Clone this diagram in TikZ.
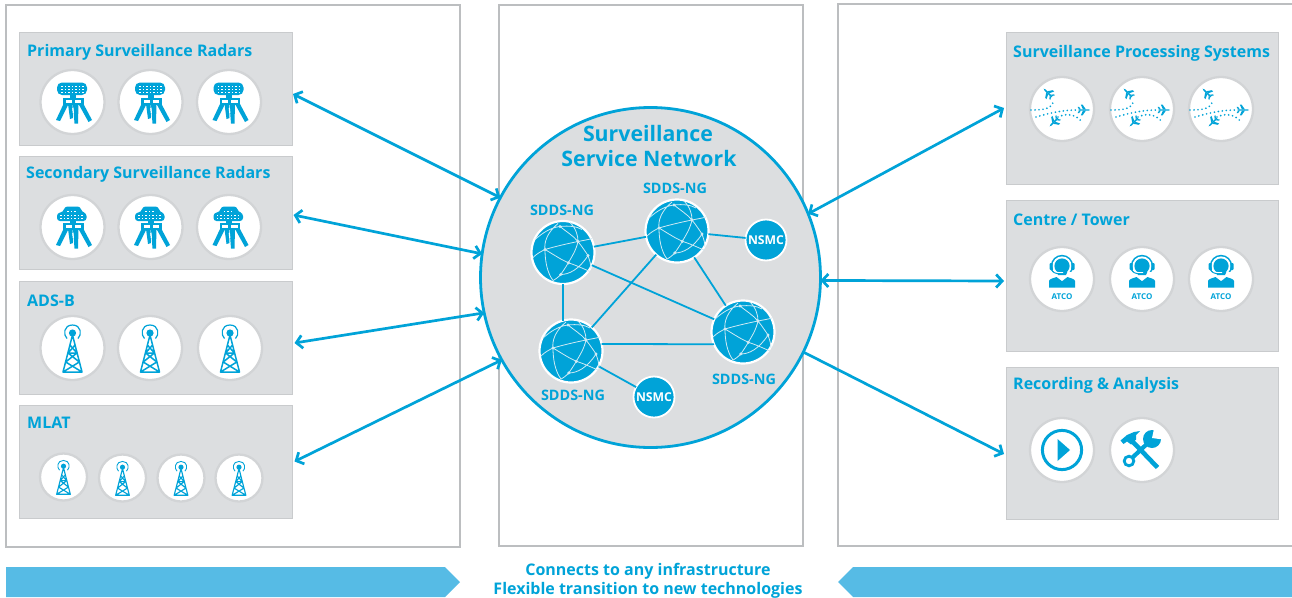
\documentclass[tikz,border=0pt]{standalone}
\usepackage{fontspec}
\setmainfont{Open Sans}
\usetikzlibrary{arrows.meta,calc}
\definecolor{sblue}{HTML}{00A3D8}
\definecolor{sgrey}{HTML}{DCDEE0}
\definecolor{sedge}{HTML}{C9CBCD}
\definecolor{pedge}{HTML}{BCBEC0}
\definecolor{barblue}{HTML}{56BBE5}
\definecolor{gline}{HTML}{CFEAF4}
\definecolor{ring}{HTML}{D2D4D6}
\newcommand{\tw}{1}
\newcommand{\fs}[1]{\fontsize{#1}{#1}\selectfont}
\tikzset{
  x=1pt,y=-1pt,
  panel/.style={draw=pedge,line width=1.1pt,fill=white,inner sep=0,outer sep=0},
  grp/.style={draw=sedge,line width=1pt,fill=sgrey,inner sep=0,outer sep=0},
  disc/.style={circle,draw=ring,line width=2.3pt,fill=white,inner sep=0,outer sep=0,minimum size=64pt},
  smalldisc/.style={disc,minimum size=47pt},
  ttl/.style={anchor=west,inner sep=0,text=sblue,font=\fs{16}\bfseries},
  sdds/.style={inner sep=0,text=sblue,font=\fs{14.4}\bfseries},
  globenode/.style={circle,fill=sblue,draw=white,line width=2.2pt,minimum size=63pt,inner sep=0,outer sep=0},
  nsmc/.style={circle,fill=sblue,draw=white,line width=1.8pt,minimum size=41pt,inner sep=0,outer sep=0,text=white,font=\fs{12.2}\bfseries},
  link/.style={draw=sblue,line width=1.8pt},
  dbl/.style={draw=sblue,line width=2.7pt,{Straight Barb[length=6pt,width=13pt]}-{Straight Barb[length=6pt,width=13pt]}},
  sgl/.style={draw=sblue,line width=2.7pt,-{Straight Barb[length=6pt,width=13pt]}},
  dots/.style={draw=sblue,line width=1.9pt,line cap=round,dash pattern=on 0pt off 4pt},
  radarbase/.pic={
    \fill[sblue] (-3,-8) rectangle (3,-3);
    \fill[sblue] (-9.5,-4.5) rectangle (11,2.5);
    \fill[white] (-7,-2.5) rectangle (-0.8,0.6);
    \fill[white] (2.2,-2.5) rectangle (8.8,0.6);
    \fill[sblue] (-9,2) -- (-4,2) -- (-12.5,19) -- (-16.5,18) -- cycle;
    \fill[sblue] (6,2) -- (11,2) -- (19.5,18) -- (16,20) -- cycle;
    \fill[sblue] (-4.5,2) -- (0,2) -- (0.5,16) -- (-2.5,17) -- cycle;
    \fill[sblue] (0.5,2) -- (6,2) -- (5.5,21.5) -- (2,21.5) -- cycle;
    \fill[white] (-.3,6) -- (.9,6) -- (1.4,11) -- (.2,11) -- cycle;
  },
  radara/.pic={
    \fill[sblue,rounded corners=5pt] (-15.5,-19.5) rectangle (14.5,-7);
    \foreach \gx in {-11.5,-8,-4.5,-1,2.5,6,9.5}
      \foreach \gy in {-16.5,-13.5,-10.5}
        \fill[white] (\gx,\gy) rectangle +(1.5,1);
    \pic {radarbase};
  },
  radarb/.pic={
    \fill[sblue,rounded corners=3pt] (-15.5,-14) -- (-9,-15) -- (-8,-20.5) -- (8,-20.5) -- (9,-15) -- (14,-14) -- (14,-6) -- (-15.5,-6) -- cycle;
    \foreach \gx in {-12.5,-9,-5.5,-2,1.5,5,8.5}
      \foreach \gy in {-12,-9}
        \fill[white] (\gx,\gy) rectangle +(1.5,1);
    \foreach \gx in {-5.5,-2,1.5}
      \fill[white] (\gx,-16) rectangle +(1.5,1);
    \pic {radarbase};
  },
  tower/.pic={
    \draw[sblue,line width=1.2*\tw pt] (-5.5,-9.5) .. controls (-9.5,-13) and (-9,-23) .. (0,-23) .. controls (9,-23) and (9.5,-13) .. (5.5,-9.5);
    \fill[sblue] (0,-15) circle (3.6);
    \draw[sblue,line width=1.5*\tw pt,line join=round]
      (0,-13) -- (-9.5,24) -- (9.5,24) -- (0,-13)
      (-4.4,5) -- (4.4,5)
      (-2.6,-3) -- (4.4,5) -- (-6.8,14) -- (9.5,24)
      (2.6,-3) -- (-4.4,5) -- (6.8,14) -- (-9.5,24);
  },
  plane/.pic={
    \begin{scope}[scale=.72]
    \fill[sblue] (-7.5,-1) -- (6,-1) -- (8.5,0) -- (6,1) -- (-7.5,1) -- cycle;
    \fill[sblue] (2.5,-1) -- (-2,-7.5) -- (-4.5,-7.5) -- (-1.5,-1) -- cycle;
    \fill[sblue] (2.5,1) -- (-2,7.5) -- (-4.5,7.5) -- (-1.5,1) -- cycle;
    \fill[sblue] (-4.5,-1) -- (-7,-4.5) -- (-9,-4.5) -- (-7,-1) -- cycle;
    \fill[sblue] (-4.5,1) -- (-7,4.5) -- (-9,4.5) -- (-7,1) -- cycle;
    \end{scope}
  },
  flights/.pic={
    \draw[dots] (-31,1) .. controls (-20,1) and (-8,0) .. (-9,-9);
    \draw[dots] (-26,8) .. controls (-12,4) and (0,1) .. (16,1);
    \draw[dots] (-4,8) .. controls (4,4) and (14,5) .. (20,13);
    \pic[rotate=135] at (-14,-16) {plane};
    \pic at (22,1) {plane};
    \pic[rotate=225] at (-8,13) {plane};
  },
  atco/.pic={
    \fill[sblue] (0,-13) circle (11.2);
    \fill[white] (0,-13) circle (9.6);
    \fill[sblue] (0,-13) circle (7.6);
    \fill[white] (-12,-7) rectangle (12,0);
    \fill[sblue,rounded corners=1pt] (-12.5,-16) rectangle (-9.3,-9);
    \fill[sblue,rounded corners=1pt] (9.3,-16) rectangle (12.5,-9);
    \fill[sblue] (-5.5,-7.5) -- (5.5,-7.5) -- (4,-4) -- (-4,-4) -- cycle;
    \draw[white,line width=1pt] (-9,-9) .. controls (-7,-6.5) and (-3,-6) .. (1,-6.5);
    \draw[sblue,line width=.9pt] (-10.5,-9) .. controls (-9,-5.5) and (-4,-5) .. (1,-5.2);
    \fill[sblue] (-13,8.5) -- (-13,2) .. controls (-13,0) and (-8,-1) .. (-5.5,-2) -- (0,2.2) -- (5.5,-2) .. controls (8,-1) and (13,0) .. (13,2) -- (13,8.5) -- cycle;
    \node[inner sep=0,text=sblue,font=\fs{8}\bfseries] (atcotxt) at (0,18) {ATCO};
  },
  playicon/.pic={
    \draw[sblue,line width=3pt] (0,0) circle (19.6);
    \fill[sblue] (-4.5,-11) -- (8,0) -- (-4.5,11) -- cycle;
  },
  toolsicon/.pic={
    \draw[sblue,line width=4.6pt] (15.5,17.5) -- (-9,-8);
    \fill[sblue] (-21.5,-9.5) -- (-15,-15) -- (-8,-18) -- (-2,-19) -- (-6,-15) -- (-6,-10.5) -- (-11,-5.5) -- (-15,-8.5) -- (-18.5,-6) -- cycle;
    \draw[sblue,line width=4.2pt] (-9.5,7.5) -- (7,-8);
    \draw[sblue,line width=2.8pt,fill=white] (-13,11) circle (4.8);
    \fill[sblue] (10,-11) circle (9);
    \fill[white] (10,-12) -- (12,-21) -- (20,-21) -- (21,-10.5) -- cycle;
  },
  globelines/.pic={
    \draw[gline,line width=.8pt]
      (-30,5) .. controls (-26,1) and (-22,-1) .. (-18,-3) .. controls (-8,3) and (-2,7) .. (5.3,10.3) .. controls (14,13) and (22,17) .. (27,19)
      (-18,-3) .. controls (-8,-6) and (5,-9) .. (15,-11) .. controls (20,-12) and (26,-13) .. (29,-14)
      (-5,-29) .. controls (-16,-20) and (-19,-10) .. (-18,-3) .. controls (-18,8) and (-16,20) .. (-10,28)
      (7,-30) .. controls (13,-24) and (15,-17) .. (15,-11) .. controls (13,-2) and (9,4) .. (5.3,10.3) .. controls (2,16) and (-1,20) .. (-2.3,22) .. controls (-5,25) and (-8,27) .. (-10,28)
      (-28,-13) .. controls (-20,-20) and (-12,-25) .. (-3,-26) .. controls (3,-21) and (10,-17) .. (15,-11) .. controls (19,-6) and (23,0) .. (25,3) .. controls (27,9) and (28,12) .. (28,16)
      (-2.3,22) .. controls (6,22) and (16,17) .. (25,3)
      (-3,-26) .. controls (6,-27) and (14,-26) .. (19,-23);
    \foreach \nx/\ny in {-18/-3,15/-11,5.3/10.3,-2.3/22,-3/-26,25/3}
      \fill[gline] (\nx,\ny) circle (1.7);
  }
}
\begin{document}
\begin{tikzpicture}
\useasboundingbox (0,0) rectangle (1292,597);
% panels
\node[panel,minimum width=454pt,minimum height=542pt] (lpanel) at (233,276) {};
\node[panel,minimum width=304pt,minimum height=541pt] (cpanel) at (651,275.5) {};
\node[panel,minimum width=456pt,minimum height=542pt] (rpanel) at (1066,275) {};
% banners
\fill[barblue] (6,567) -- (445,567) -- (460,582) -- (445,597) -- (6,597) -- cycle;
\fill[barblue] (1292,567) -- (853,567) -- (838,582) -- (853,597) -- (1292,597) -- cycle;
\node[inner sep=0,text=sblue,font=\fs{16}\bfseries] (cap1) at (648,571) {Connects to any infrastructure};
\node[inner sep=0,text=sblue,font=\fs{16}\bfseries] (cap2) at (648,590.5) {Flexible transition to new technologies};
% groups left
\node[grp,minimum width=273pt,minimum height=113pt] (psr) at (155.5,88.5) {};
\node[grp,minimum width=273pt,minimum height=113pt] (ssr) at (155.5,213) {};
\node[grp,minimum width=273pt,minimum height=113pt] (adsb) at (155.5,337.5) {};
\node[grp,minimum width=273pt,minimum height=113pt] (mlat) at (155.5,461.5) {};
\node[ttl] (tpsr) at (27,52.5) {Primary Surveillance Radars};
\node[ttl] (tssr) at (26,174.5) {Secondary Surveillance Radars};
\node[ttl] (tads) at (27,301) {ADS-B};
\node[ttl] (tmlat) at (27,423) {MLAT};
% groups right
\node[grp,minimum width=272pt,minimum height=152pt] (sps) at (1142,108) {};
\node[grp,minimum width=272pt,minimum height=151pt] (ctr) at (1142,275.5) {};
\node[grp,minimum width=272pt,minimum height=152pt] (rec) at (1142,443) {};
\node[ttl] (tsps) at (1013,53.5) {Surveillance Processing Systems};
\node[ttl] (tctr) at (1013,220) {Centre / Tower};
\node[ttl] (trec) at (1013,385.5) {Recording \& Analysis};
% discs and icons
\foreach \n/\cx in {1/72.5,2/150.5,3/229}{
  \node[disc] (pd\n) at (\cx,102) {};
  \pic at (\cx,102) {radara};
  \node[disc] (sd\n) at (\cx,227) {};
  \pic at (\cx,227) {radarb};
}
\foreach \n/\cx in {1/72.5,2/150,3/230}{
  \node[disc] (ad\n) at (\cx,348) {};
  \pic at (\cx,348) {tower};
}
\renewcommand{\tw}{.75}
\foreach \n/\cx/\cy in {1/63.5/477,2/122.5/478,3/181/478,4/239/478}{
  \node[smalldisc] (md\n) at (\cx,\cy) {};
  \pic[scale=.72] at (\cx,\cy) {tower};
}
\foreach \n/\cx in {1/1062,2/1142,3/1221}{
  \node[disc] (fd\n) at (\cx,109) {};
  \pic at (\cx,109) {flights};
  \node[disc] (ud\n) at (\cx,279) {};
  \pic at (\cx,279) {atco};
}
\node[disc] (rd1) at (1062,450) {};
\pic at (1062,450) {playicon};
\node[disc] (rd2) at (1142,450) {};
\pic at (1142,450) {toolsicon};
% network
\node[circle,draw=sblue,line width=2.8pt,fill=sgrey,minimum size=340pt,inner sep=0,outer sep=0] (net) at (650.5,277.5) {};
\node[inner sep=0,text=sblue,font=\fs{21.3}\bfseries] (tnet1) at (648,134) {Surveillance};
\node[inner sep=0,text=sblue,font=\fs{21.3}\bfseries] (tnet2) at (649,159) {Service Network};
\node[globenode] (ga) at (563,252.5) {};
\node[globenode] (gb) at (677,231) {};
\node[globenode] (gc) at (743,332) {};
\node[globenode] (gd) at (571,351) {};
\node[nsmc] (na) at (766,240) {NSMC};
\node[nsmc] (nb) at (654,397) {NSMC};
\draw[link] (ga) -- (gb);
\draw[link] (ga) -- (gc);
\draw[link] (ga.south) -- (ga.south |- gd.106);
\draw[link] (gb) -- (gc);
\draw[link] (gb) -- (gd);
\draw[link] (gd.13) -- (gc.203);
\draw[link] (gb) -- (na);
\draw[link] (gd) -- (nb);
\foreach \g in {ga,gb,gc,gd} \pic at (\g) {globelines};
\node[sdds] (la) at (562,210) {SDDS-NG};
\node[sdds] (lb) at (675,188) {SDDS-NG};
\node[sdds] (lc) at (744,379) {SDDS-NG};
\node[sdds] (ld) at (573,395) {SDDS-NG};
% arrows
\draw[dbl] ([yshift=-5.5pt,xshift=1pt]psr.east) -- (net.152);
\draw[dbl] ([yshift=-2pt,xshift=1.5pt]ssr.east) -- (net.172);
\draw[dbl] ([yshift=-5.5pt,xshift=2.5pt]adsb.east) -- (net.192);
\draw[dbl] ([xshift=2.5pt]mlat.east) -- (net.209);
\draw[dbl] (net.22) -- ([xshift=-2pt]sps.west);
\draw[dbl] (net.-1.15) -- ([yshift=-5.5pt,xshift=-2pt]ctr.west);
\draw[sgl] (net.-26) -- ([yshift=-11pt,xshift=-2pt]rec.west);
\end{tikzpicture}
\end{document}
